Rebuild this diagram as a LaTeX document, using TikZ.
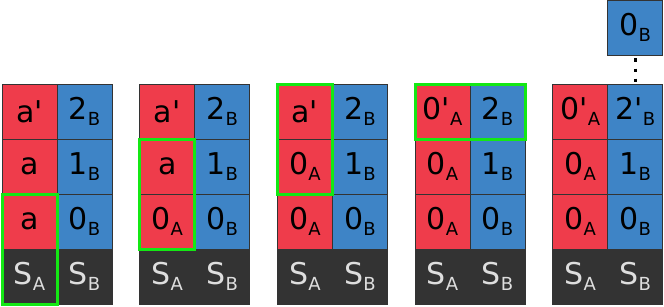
\documentclass[tikz,border=0pt]{standalone}
\usepackage{fontspec}
\setmainfont{DejaVu Sans}
\usepackage{tikz}
\usetikzlibrary{positioning,fit}
\definecolor{StRed}{RGB}{239,60,75}
\definecolor{StBlue}{RGB}{62,132,198}
\definecolor{StDark}{RGB}{51,51,51}
\definecolor{StText}{RGB}{222,222,222}
\definecolor{StGreen}{RGB}{20,232,20}
\newcommand{\sub}[1]{\raisebox{-6pt}{\fontsize{18}{18}\selectfont #1}}
\newcommand{\pr}{\textquotesingle}

\begin{document}
\begin{tikzpicture}[
  x=1pt,y=1pt,
  node distance=0pt,
  stackcell/.style={draw=StDark,line width=0.8pt,minimum width=55pt,minimum height=55pt,
               inner sep=0pt,outer sep=0pt,font=\fontsize{30}{34}\selectfont},
  redcell/.style={stackcell,fill=StRed},
  bluecell/.style={stackcell,fill=StBlue},
  darkcell/.style={stackcell,fill=StDark,text=StText},
  window/.style={draw=StGreen,line width=3pt,inner sep=0pt,outer sep=0pt},
  dotline/.style={line width=3pt,dash pattern=on 3pt off 7pt,shorten <=3.5pt,shorten >=2.5pt}
]
\useasboundingbox (0,0) rectangle (664,306);
\foreach \i/\aone/\atwo/\athree/\bthree in {
    1/a/a/a\pr/2\sub{B},
    2/0\sub{A}/a/a\pr/2\sub{B},
    3/0\sub{A}/0\sub{A}/a\pr/2\sub{B},
    4/0\sub{A}/0\sub{A}/0\pr\sub{A}/2\sub{B},
    5/0\sub{A}/0\sub{A}/0\pr\sub{A}/2\pr\sub{B}}{
  \node[darkcell] (sa\i) at ({2+27.5+137.7*(\i-1)},29.5) {S\sub{A}};
  \node[darkcell,right=of sa\i] (sb\i) {S\sub{B}};
  \node[redcell,above=of sa\i] (a\i-1) {\aone};
  \node[redcell,above=of a\i-1] (a\i-2) {\atwo};
  \node[redcell,above=of a\i-2] (a\i-3) {\athree};
  \node[bluecell,above=of sb\i] (b\i-1) {0\sub{B}};
  \node[bluecell,above=of b\i-1] (b\i-2) {1\sub{B}};
  \node[bluecell,above=of b\i-2] (b\i-3) {\bthree};
}
\node[bluecell,above=29pt of b5-3] (top) {0\sub{B}};
\draw[dotline] (top) -- (b5-3);
% moving window
\node[window,fit=(sa1)(a1-1)] (w1) {};
\node[window,fit=(a2-1)(a2-2)] (w2) {};
\node[window,fit=(a3-2)(a3-3)] (w3) {};
\node[window,fit=(a4-3)(b4-3)] (w4) {};
\end{tikzpicture}
\end{document}
